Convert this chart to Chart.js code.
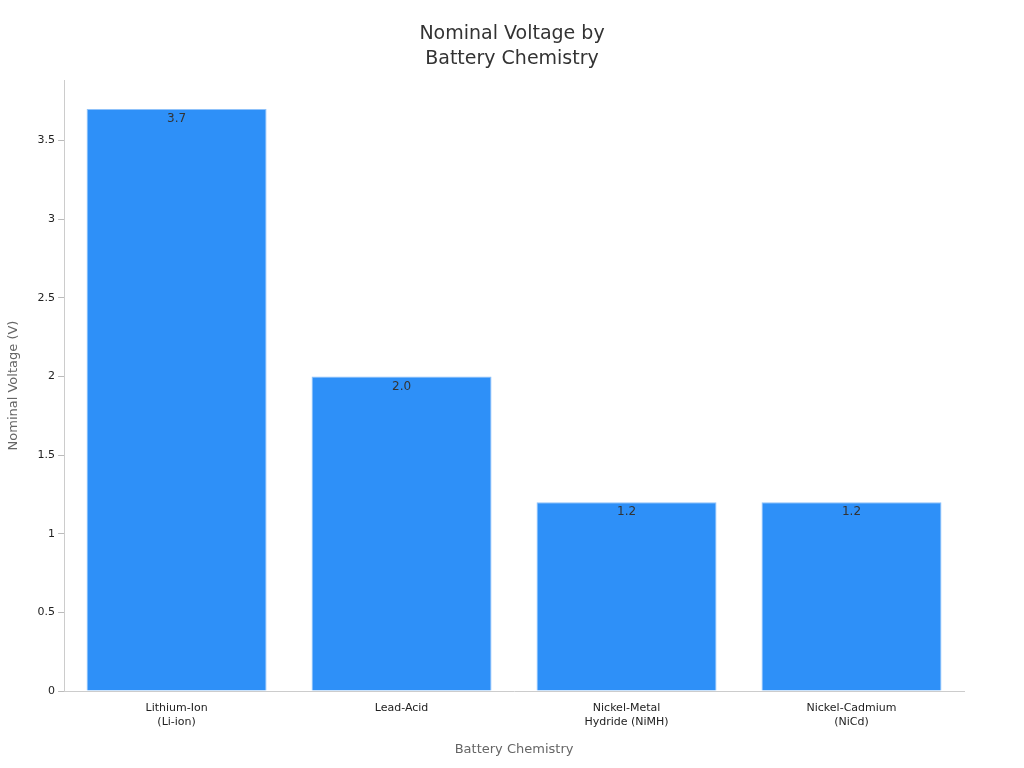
<!DOCTYPE html>
<html>
<head>
<meta charset="utf-8">
<script src="https://cdn.jsdelivr.net/npm/chart.js@4/dist/chart.umd.min.js"></script>
<style>
  html, body { margin: 0; padding: 0; background: #fff; }
  #wrap { width: 1024px; height: 768px; }
</style>
</head>
<body>
<div id="wrap"><canvas id="chartCanvas" width="1024" height="768"></canvas></div>
<script>
const chemistryLabels = [["Lithium-Ion", "(Li-ion)"], "Lead-Acid", ["Nickel-Metal", "Hydride (NiMH)"], ["Nickel-Cadmium", "(NiCd)"]];
const voltageValues = [3.7, 2.0, 1.2, 1.2];
const chartTitle = ["Nominal Voltage by", "Battery Chemistry"];

// value labels just under the top edge of each bar, plus a page-centred title
const barValueLabels = {
  id: "barValueLabels",
  afterDatasetsDraw(chart) {
    const ctx = chart.ctx;
    const meta = chart.getDatasetMeta(0);
    ctx.save();
    ctx.font = "12px 'DejaVu Sans'";
    ctx.fillStyle = "#333";
    ctx.textAlign = "center";
    ctx.textBaseline = "top";
    meta.data.forEach((bar, i) => {
      ctx.fillText(voltageValues[i].toFixed(1), bar.x, bar.y + 4);
    });
    ctx.font = "19px 'DejaVu Sans'";
    ctx.textBaseline = "middle";
    ctx.fillText(chartTitle[0], chart.width / 2, 34);
    ctx.fillText(chartTitle[1], chart.width / 2, 59);
    ctx.restore();
  }
};

new Chart("chartCanvas", {
  type: "bar",
  data: {
    labels: chemistryLabels,
    datasets: [{
      data: voltageValues,
      backgroundColor: "#2E90F8",
      borderColor: "#8FC2FA",
      borderWidth: 1,
      categoryPercentage: 0.8,
      barPercentage: 1.0
    }]
  },
  options: {
    responsive: false,
    animation: false,
    layout: { padding: { left: 2, right: 60, top: 80, bottom: 7 } },
    plugins: {
      legend: { display: false },
      tooltip: { enabled: false },
      title: { display: false }
    },
    scales: {
      x: {
        grid: { display: false },
        border: { color: "#ccc" },
        ticks: { color: "#222", font: { family: "DejaVu Sans", size: 11 } },
        title: {
          display: true, text: "Battery Chemistry", color: "#666",
          font: { family: "DejaVu Sans", size: 13 }, padding: { top: 10 }
        }
      },
      y: {
        min: 0,
        max: 3.885,
        afterBuildTicks: axis => {
          axis.ticks = axis.ticks.filter(t => Math.abs(t.value * 2 - Math.round(t.value * 2)) < 1e-9);
        },
        grid: { display: true, drawOnChartArea: false, drawTicks: true, tickLength: 6, tickColor: "#bbb" },
        border: { color: "#ccc" },
        ticks: {
          stepSize: 0.5, color: "#222",
          font: { family: "DejaVu Sans", size: 11 },
          callback: v => String(v)
        },
        title: {
          display: true, text: "Nominal Voltage (V)", color: "#666",
          font: { family: "DejaVu Sans", size: 13 },
          padding: { top: 4, bottom: 13 }
        }
      }
    }
  },
  plugins: [barValueLabels]
});
</script>
</body>
</html>
